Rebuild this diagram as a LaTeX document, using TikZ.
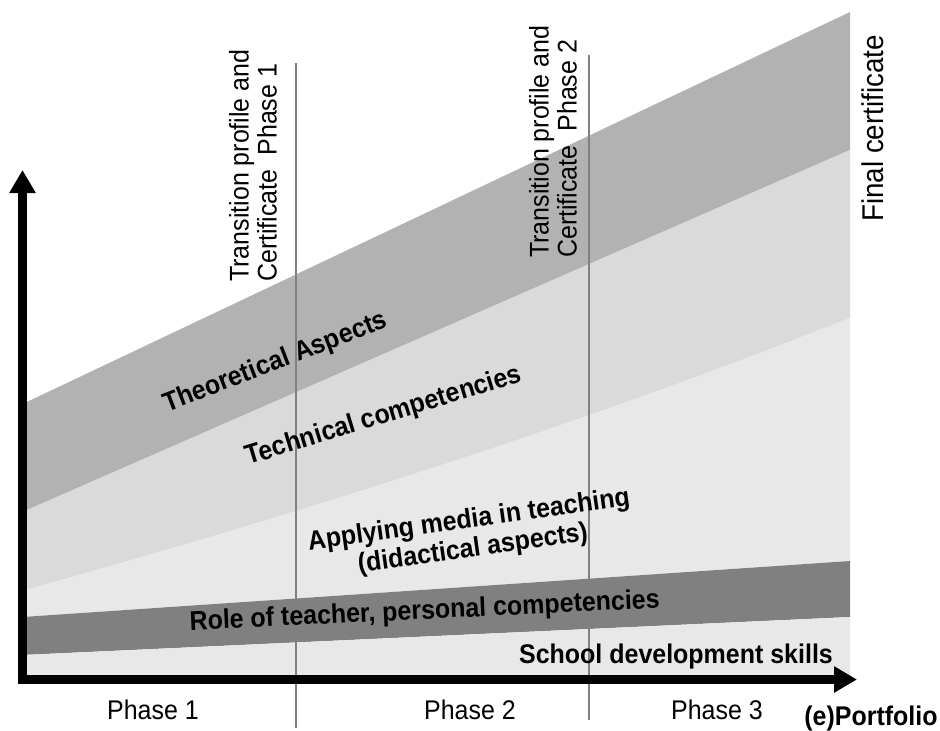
\documentclass[tikz,border=0pt]{standalone}
\usepackage{fontspec}
\setmainfont[FakeStretch = 0.925]{Liberation Sans}
\usetikzlibrary{arrows.meta}
\tikzset{
  every node/.style = {inner sep = 0, font = \fontsize{27}{28}\selectfont},
  bandlabel/.style = {font = \fontsize{27}{29}\selectfont\bfseries},
  phaseline/.style = {draw = black!50, line width = 1.3pt}
}
\begin{document}
\begin{tikzpicture}[x = 1pt, y = -1pt]
\useasboundingbox (0,0) rectangle (940,731);
\pgfmathsetmacro\xl{22.5}
\pgfmathsetmacro\xr{850}
\pgfmathsetmacro\yb{679.5}
\definecolor{mycolor}{gray}{0.70}
\draw [fill = mycolor, draw = none] (\xl,404) -- (\xr,12) -- (\xr,150) -- (\xl,512) -- cycle;
\definecolor{mycolor}{gray}{0.855}
\draw [fill = mycolor, draw = none] (\xl,512) -- (\xr,150) -- (\xr,318) .. controls (574,428) and (298,514) .. (\xl,591) -- cycle;
\definecolor{mycolor}{gray}{0.91}
\draw [fill = mycolor, draw = none] (\xl,591) .. controls (298,514) and (574,428) .. (\xr,318) -- (\xr,561) -- (\xl,617) -- cycle;
\definecolor{mycolor}{gray}{0.50}
\draw [fill = mycolor, draw = none] (\xl,617) -- (\xr,561) -- (\xr,617) -- (\xl,655) -- cycle;
\definecolor{mycolor}{gray}{0.91}
\draw [fill = mycolor, draw = none] (\xl,655) -- (\xr,617) -- (\xr,\yb) -- (\xl,\yb) -- cycle;
\foreach \px/\ptop/\pbot in {296/63/728, 589/55/720} \draw [phaseline] (\px,\ptop) -- (\px,\pbot);
\coordinate (ytip) at (\xl,170);
\coordinate (xtip) at (857,\yb);
\draw [line width = 8.5pt, <->, >={Triangle[length = 23pt, width = 25pt]}] (ytip) |- (xtip);
\node [bandlabel, rotate = 21, anchor = base] (theo) at (278,369.5) {Theoretical Aspects};
\node [bandlabel, rotate = 17, anchor = base] (tech) at (386,423) {Technical competencies};
\node [bandlabel, rotate = 8, align = center] (media) at (471,535) {Applying media in teaching\\(didactical aspects)};
\node [bandlabel, rotate = 2.7, anchor = base] (role) at (425,619) {Role of teacher, personal competencies};
\node [bandlabel, anchor = base] (school) at (676,663) {School development skills};
\node [rotate = 90, anchor = south west, align = left] (cert1) at (277,282) {Transition profile and\\Certificate\ \ Phase 1};
\node [rotate = 90, anchor = south west, align = left] (cert2) at (577,258) {Transition profile and\\Certificate\ \ Phase 2};
\node [rotate = 90, anchor = base west, font = \fontsize{30}{32}\selectfont] (final) at (883,222) {Final certificate};
\foreach \n/\px in {1/153, 2/470, 3/717} \node [anchor = base] (phase\n) at (\px,719) {Phase \n};
\node [font = \fontsize{27}{28}\selectfont\bfseries, anchor = base] (portfolio) at (871,725) {(e)Portfolio};
\end{tikzpicture}
\end{document}
